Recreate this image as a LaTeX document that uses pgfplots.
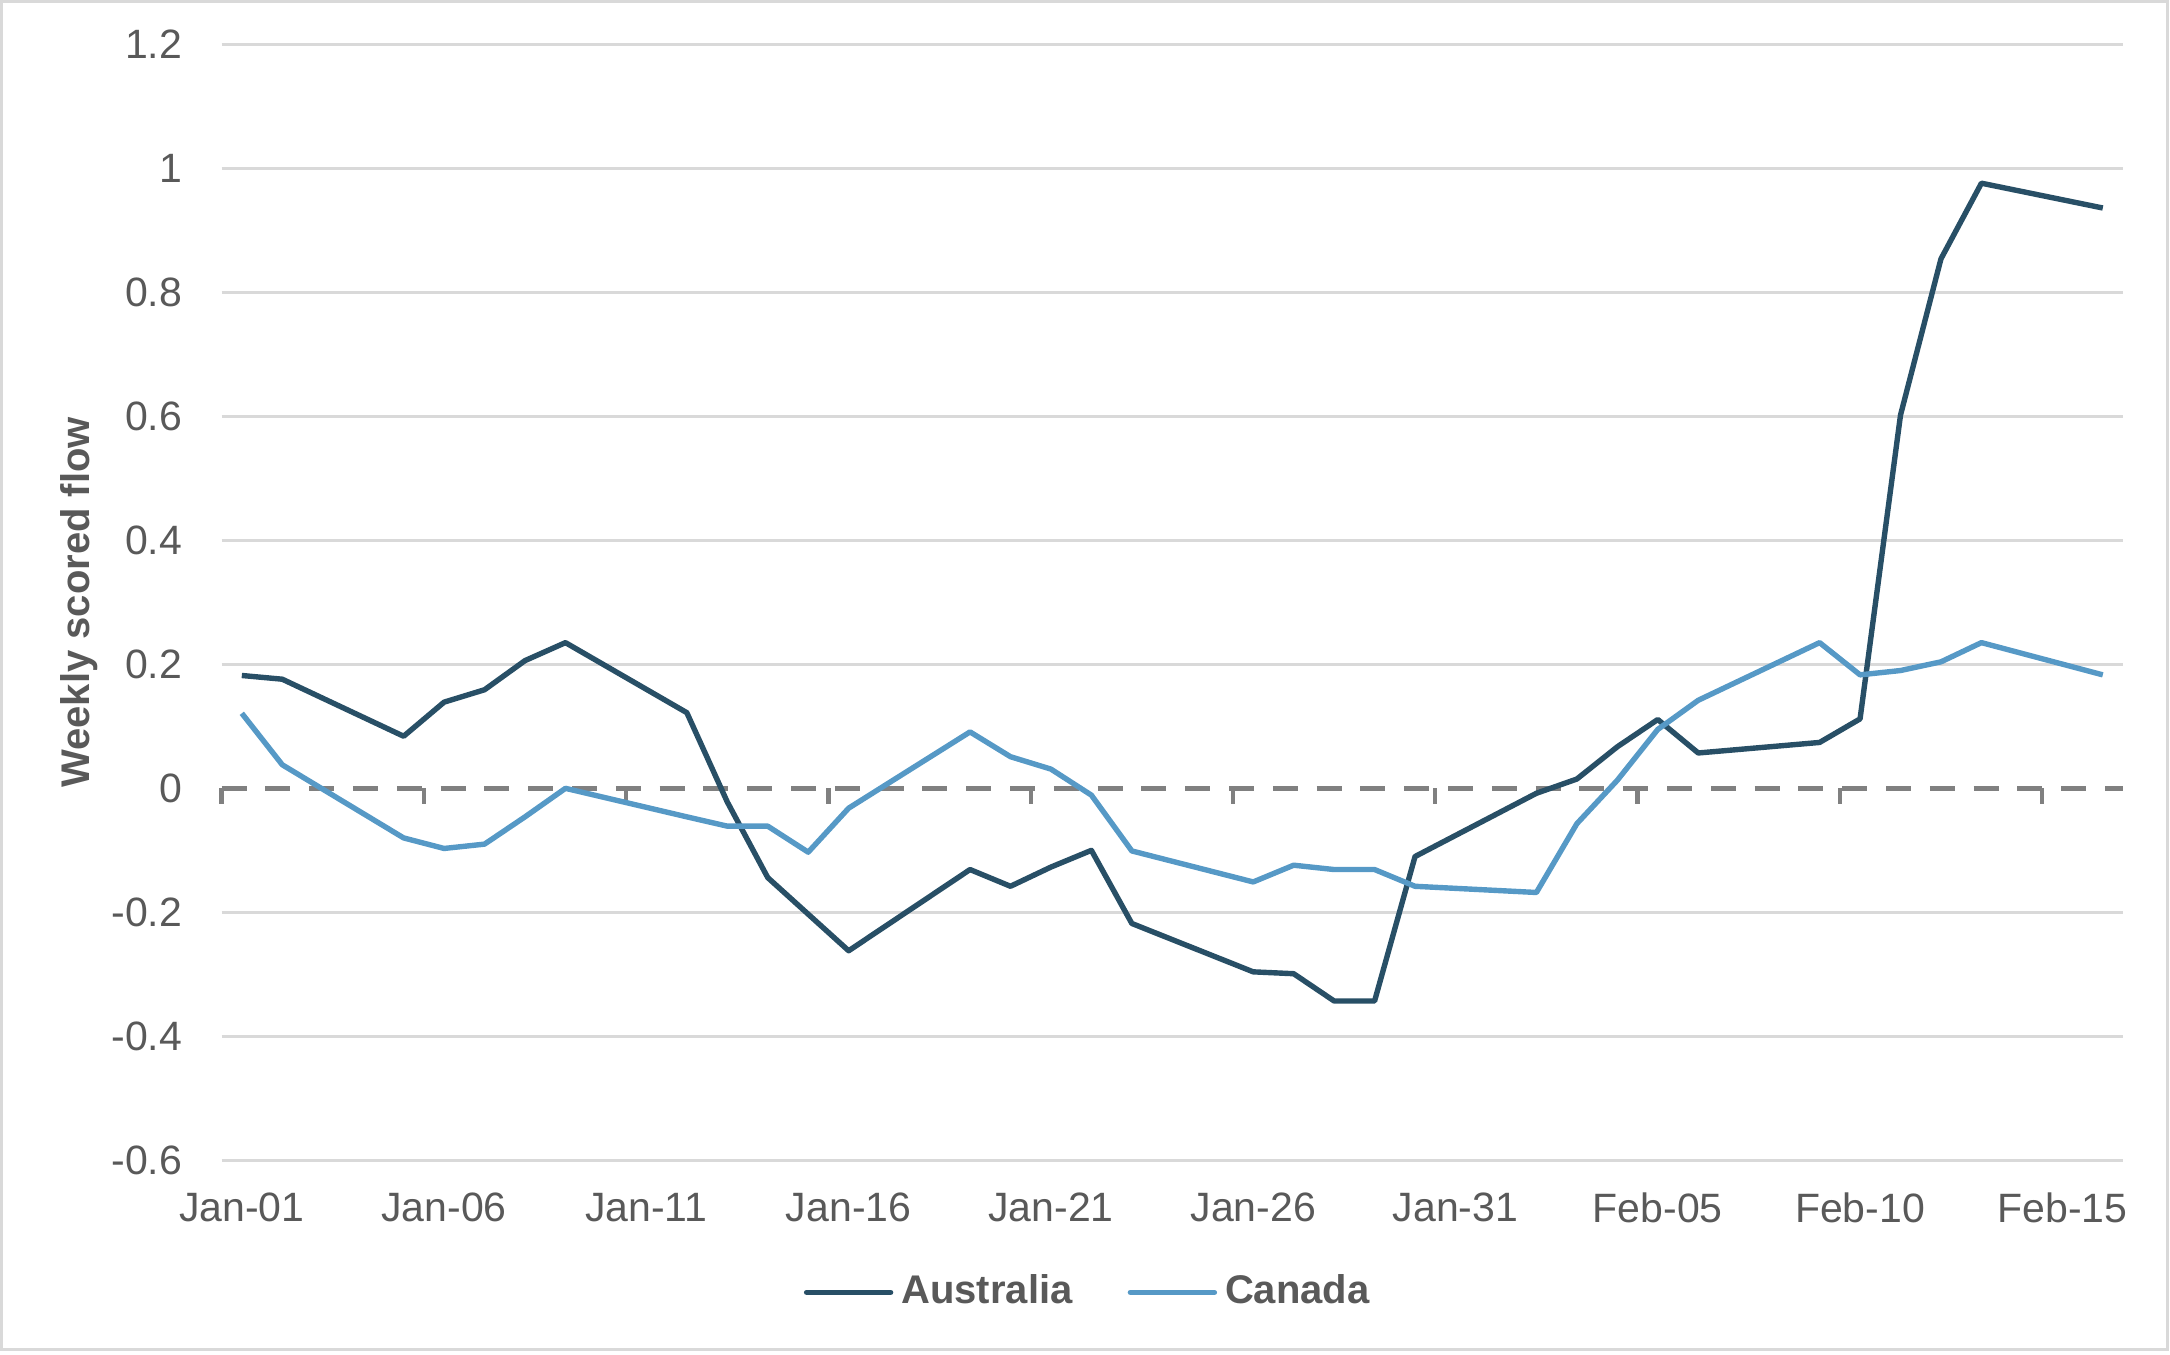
\documentclass[border=0pt]{standalone}
\usepackage{fontspec}
\setmainfont{Liberation Sans}
\usepackage{pgfplots}
\pgfplotsset{compat=1.18}

\definecolor{aus}{HTML}{284F66}
\definecolor{can}{HTML}{5699C6}
\definecolor{txt}{HTML}{595959}
\definecolor{grd}{HTML}{D9D9D9}
\definecolor{zer}{HTML}{808080}

\begin{document}
\begin{tikzpicture}[font=\fontsize{10.25}{12}\selectfont]
\useasboundingbox (-55.4pt,-48.425pt) rectangle (487.1pt,290.075pt);
\draw[grd, line width=0.75pt] (-55.0pt,-47.4pt) rectangle (486.35pt,289.6pt);
\begin{axis}[
  at={(0,0)}, anchor=south west,
  scale only axis, width=475.35pt, height=279pt,
  xmin=-0.5, xmax=46.5, ymin=-0.6, ymax=1.2,
  clip=false,
  axis line style={draw=none},
  major tick length=0pt,
  xtick={0,5,...,45},
  xticklabels={Jan-01,Jan-06,Jan-11,Jan-16,Jan-21,Jan-26,Jan-31,Feb-05,Feb-10,Feb-15},
  ytick={-0.6,-0.4,-0.2,0.2,0.4,0.6,0.8,1,1.2},
  extra y ticks={0},
  extra y tick style={grid=none},
  ymajorgrids,
  grid style={grd, line width=0.6pt},
  /pgf/number format/assume math mode=true,
  tick label style={text=txt},
  yticklabel style={anchor=east, inner sep=0pt, xshift=-9.65pt},
  xticklabel style={anchor=north, inner sep=0pt, yshift=-8pt},
  ylabel={Weekly scored flow},
  every axis y label/.style={at={(axis description cs:-0.075,0.5)}, rotate=90, anchor=center, font=\bfseries, text=txt},
  legend columns=2,
  legend style={at={(axis description cs:0.4571,-0.1183)}, anchor=center, draw=none, fill=none,
    font=\bfseries, text=txt, inner sep=0pt,
    /tikz/every even column/.append style={column sep=11.8pt}},
  legend image code/.code={\draw[#1, line cap=round] (0pt,0pt) -- (21pt,0pt);},
]
% zero line with its tick marks
\draw[zer, line width=1.25pt, dash pattern=on 6.25pt off 4.7pt] (axis cs:-0.5,0) -- (axis cs:46.5,0);
\pgfplotsinvokeforeach{-0.5,4.5,9.5,14.5,19.5,24.5,29.5,34.5,39.5,44.5}{
  \draw[zer, line width=1.1pt] (axis cs:#1,0) -- ++(0pt,-4pt);
}

\addplot[aus, line width=1.35pt, line join=round] coordinates {
 (0,0.182) (1,0.176) (4,0.084) (5,0.139) (6,0.159) (7,0.206) (8,0.235)
 (11,0.122) (12,-0.022) (13,-0.144) (15,-0.262) (18,-0.131) (19,-0.158)
 (20,-0.127) (21,-0.100) (22,-0.218) (25,-0.296) (26,-0.299) (27,-0.343)
 (28,-0.343) (29,-0.110) (32,-0.008) (33,0.015) (34,0.067) (35,0.111)
 (36,0.057) (39,0.074) (40,0.112) (41,0.602) (42,0.854) (43,0.976) (46,0.936)
};
\addlegendentry{Australia}
\addplot[can, line width=1.35pt, line join=round] coordinates {
 (0,0.121) (1,0.038) (4,-0.080) (5,-0.097) (6,-0.090) (7,-0.046) (8,0.000)
 (11,-0.046) (12,-0.061) (13,-0.061) (14,-0.103) (15,-0.032) (18,0.091)
 (19,0.051) (20,0.031) (21,-0.011) (22,-0.101) (25,-0.151) (26,-0.124)
 (27,-0.131) (28,-0.131) (29,-0.158) (32,-0.168) (33,-0.057) (34,0.013)
 (35,0.095) (36,0.142) (39,0.235) (40,0.183) (41,0.190) (42,0.204)
 (43,0.235) (46,0.183)
};
\addlegendentry{Canada}
\end{axis}
\end{tikzpicture}
\end{document}
